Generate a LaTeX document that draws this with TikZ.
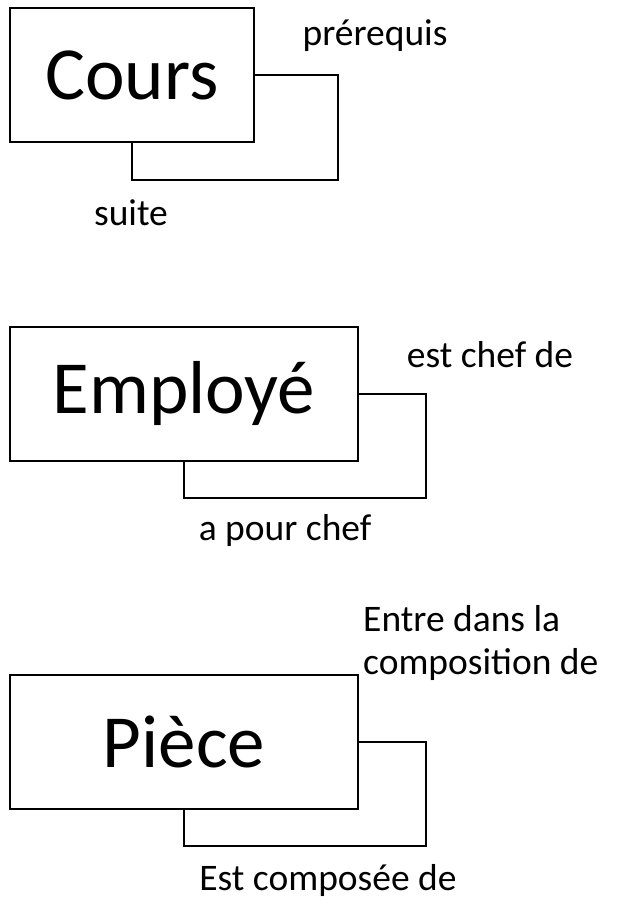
\documentclass[tikz,border=0pt]{standalone}
\usepackage{fontspec}
\setmainfont{Carlito}
\usetikzlibrary{positioning}

\begin{document}
\begin{tikzpicture}[
    x=1pt, y=-1pt,
    entity/.style={rectangle, draw, line width=1.8pt, minimum height=134pt, inner sep=0pt, font=\fontsize{75}{80}\selectfont},
    role/.style={font=\fontsize{37.5}{43}\selectfont, inner sep=0pt, align=left},
    selfline/.style={draw, line width=2.4pt}
]
    \useasboundingbox (0,0) rectangle (622,923);

    % Entity boxes
    \node [entity, minimum width=244pt] (cours) at (132,75) {Cours};
    \node [entity, minimum width=348pt] (employe) at (184,394) {Employé};
    \node [entity, minimum width=348pt] (piece) at (184,742) {Pièce};

    % Role labels
    \node [role] (prerequis) at (375,36) {prérequis};
    \node [role] (suite) at (131,213) {suite};
    \node [role] (chefde) at (490,355) {est chef de};
    \node [role] (pourchef) at (285,530) {a pour chef};
    \node [role, anchor=west] (entre) at (363,643) {Entre dans la\\composition de};
    \node [role] (composee) at (328,880) {Est composée de};

    % Reflexive links
    \path [selfline] (cours.east) -- ++(83,0) -- ++(0,105) -| (cours.south);
    \path [selfline] (employe.east) -- ++(67,0) -- ++(0,104) -| (employe.south);
    \path [selfline] (piece.east) -- ++(67,0) -- ++(0,104) -| (piece.south);
\end{tikzpicture}
\end{document}
